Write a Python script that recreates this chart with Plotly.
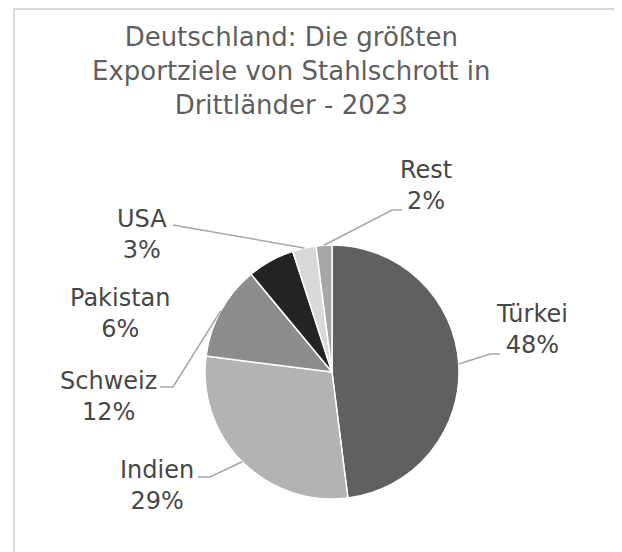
import math
import plotly.graph_objects as go

# Daten
laender = ["Türkei", "Indien", "Schweiz", "Pakistan", "USA", "Rest"]
anteile = [48, 29, 12, 6, 3, 2]
farben = ["#606060", "#b3b3b3", "#8c8c8c", "#232323", "#d9d9d9", "#a6a6a6"]

titel = "Deutschland: Die größten<br>Exportziele von Stahlschrott in<br>Drittländer - 2023"

# Layout (pixels, measured on the page; the page body adds an 8px margin)
OFF = 8
W, H = 622 - OFF, 552 - OFF
CX, CY, R = 332, 372, 127
FONT = "DejaVu Sans"

# label block centres and leader line points (after the slice edge point)
label_pos = {
    "Türkei": (532, 329),
    "Indien": (157, 485),
    "Schweiz": (108, 396),
    "Pakistan": (120, 313),
    "USA": (142, 234),
    "Rest": (426, 185),
}
leader = {
    "Türkei": [(490, 354), (500, 354)],
    "Indien": [(210, 477), (198, 477)],
    "Schweiz": [(173, 387), (160, 387)],
    "Pakistan": [],
    "USA": [(173, 225)],
    "Rest": [(392, 210), (402, 210)],
}


def to_paper(x, y):
    return (x - OFF) / W, 1 - (y - OFF) / H


fig = go.Figure()
dx0, dy0 = to_paper(CX - R, CY + R)
dx1, dy1 = to_paper(CX + R, CY - R)
fig.add_trace(go.Pie(labels=laender, values=anteile, sort=False, direction="clockwise", rotation=0,
                     marker=dict(colors=farben, line=dict(color="white", width=1.5)),
                     textinfo="none", hoverinfo="label+percent", showlegend=False,
                     domain=dict(x=[dx0, dx1], y=[dy0, dy1])))

total = sum(anteile)
shapes = []
annotations = []
cum = 0
for name, v in zip(laender, anteile):
    mid = (cum + v / 2) / total * 2 * math.pi
    cum += v
    ex, ey = CX + R * math.sin(mid), CY - R * math.cos(mid)
    pts = leader[name]
    if pts:
        path = "M %f %f" % to_paper(ex, ey)
        for p in pts:
            path += " L %f %f" % to_paper(*p)
        shapes.append(dict(type="path", xref="paper", yref="paper", path=path,
                           line=dict(color="#a6a6a6", width=1.5)))
    lx, ly = to_paper(*label_pos[name])
    pct = round(v / total * 100)
    annotations.append(dict(x=lx, y=ly, xref="paper", yref="paper", showarrow=False,
                            text=name + "<br>" + str(pct) + "%", align="center",
                            xanchor="center", yanchor="middle",
                            font=dict(family=FONT, size=24, color="#474747")))

# title
tx, ty = to_paper(291, 71)
annotations.append(dict(x=tx, y=ty, xref="paper", yref="paper", showarrow=False, text=titel,
                        align="center", xanchor="center", yanchor="middle",
                        font=dict(family=FONT, size=26, color="#5f5f5f")))

# chart frame
x0, y0 = to_paper(14, 570)
x1, y1 = to_paper(621, 9)
shapes.append(dict(type="rect", xref="paper", yref="paper", x0=x0, y0=y0, x1=x1, y1=y1,
                   line=dict(color="#d9d9d9", width=2), layer="below"))

fig.update_layout(width=W, height=H, margin=dict(l=0, r=0, t=0, b=0),
                  paper_bgcolor="white", plot_bgcolor="white",
                  shapes=shapes, annotations=annotations)

fig.write_html("out.html")
